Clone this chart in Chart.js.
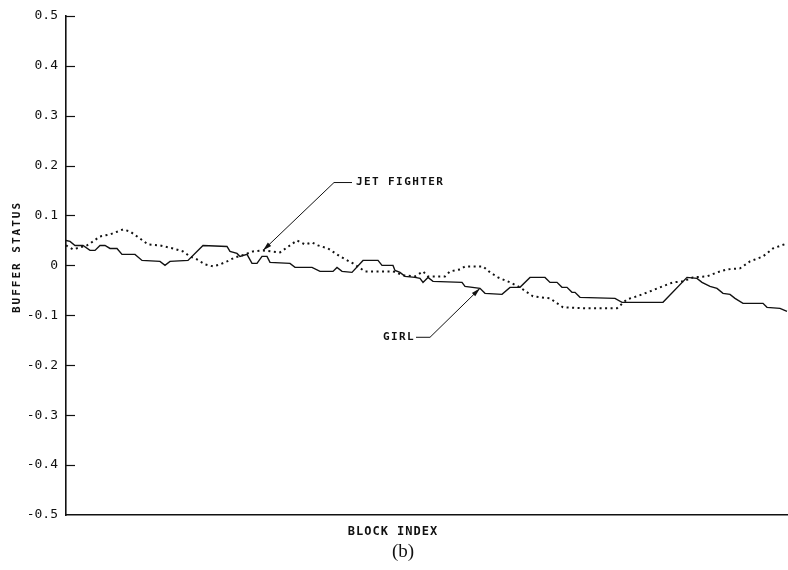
<!DOCTYPE html>
<html>
<head>
<meta charset="utf-8">
<script src="https://cdn.jsdelivr.net/npm/chart.js@4/dist/chart.umd.min.js"></script>
<style>
  html, body { margin: 0; padding: 0; background: #fff; }
  #wrap { width: 788px; height: 570px; }
</style>
</head>
<body>
<div id="wrap"><canvas id="chart" width="788" height="570"></canvas></div>
<script>
// Buffer status per block for the two test sequences.
const girlBlock = [0, 2, 4.5, 8.5, 12, 14.5, 17, 19.5, 22, 25.5, 28, 34.5, 38, 47, 49.5, 52, 61, 68.5, 80.5, 82, 85.5, 87, 90.5, 93, 95.5, 98, 100.5, 102, 112, 114.5, 123, 127, 133.5, 135.5, 138, 143, 148.5, 156, 158, 163.5, 164.5, 167, 169.5, 174.5, 177, 178.5, 181, 183.5, 198, 199.5, 207, 209.5, 218, 222, 227, 232, 239.5, 242, 245.5, 248, 250.5, 253, 254.5, 257, 274.5, 278, 298.5, 310.5, 315.5, 318, 322, 325.5, 328.5, 332, 334.5, 338.5, 348.5, 350.5, 357, 360.5];
const girlStatus = [0.050, 0.048, 0.040, 0.040, 0.030, 0.030, 0.040, 0.040, 0.034, 0.034, 0.022, 0.022, 0.010, 0.008, 0.000, 0.008, 0.010, 0.040, 0.038, 0.028, 0.024, 0.018, 0.022, 0.004, 0.004, 0.018, 0.018, 0.006, 0.004, -0.004, -0.004, -0.012, -0.012, -0.004, -0.012, -0.014, 0.010, 0.010, 0.000, 0.000, -0.010, -0.014, -0.022, -0.024, -0.026, -0.034, -0.024, -0.032, -0.034, -0.042, -0.046, -0.056, -0.058, -0.044, -0.044, -0.024, -0.024, -0.034, -0.034, -0.044, -0.044, -0.054, -0.054, -0.064, -0.066, -0.074, -0.074, -0.024, -0.026, -0.034, -0.042, -0.046, -0.056, -0.058, -0.066, -0.076, -0.076, -0.084, -0.086, -0.092];

const jetBlock = [0, 3.5, 10.5, 13.5, 17, 22, 28.5, 32, 37, 41, 47, 53.5, 58.5, 62, 65.5, 69.5, 73.5, 77, 80.5, 84.5, 89.5, 93.5, 98.5, 107, 115.5, 119.5, 123, 126, 131, 137, 143.5, 149.5, 163.5, 168.5, 174.5, 178.5, 181, 189.5, 192, 197, 199.5, 208.5, 212, 216, 222, 227, 233.5, 242, 248.5, 260.5, 275.5, 280.5, 285.5, 292, 297, 303.5, 308.5, 313.5, 320.5, 325.5, 330.5, 337, 342, 348.5, 353.5, 360.5];
const jetStatus = [0.040, 0.032, 0.040, 0.048, 0.058, 0.062, 0.072, 0.068, 0.054, 0.042, 0.040, 0.034, 0.028, 0.018, 0.012, 0.002, -0.002, 0.002, 0.008, 0.016, 0.022, 0.028, 0.030, 0.026, 0.050, 0.042, 0.046, 0.040, 0.034, 0.018, 0.004, -0.012, -0.012, -0.020, -0.022, -0.012, -0.022, -0.022, -0.012, -0.008, -0.002, -0.002, -0.014, -0.024, -0.034, -0.044, -0.062, -0.066, -0.084, -0.086, -0.086, -0.068, -0.062, -0.052, -0.044, -0.034, -0.032, -0.024, -0.022, -0.014, -0.008, -0.006, 0.008, 0.018, 0.034, 0.044];

const yTickValues = [-0.5, -0.4, -0.3, -0.2, -0.1, 0, 0.1, 0.2, 0.3, 0.4, 0.5];
const yTickLabels = ['-0.5', '-0.4', '-0.3', '-0.2', '-0.1', '0', '0.1', '0.2', '0.3', '0.4', '0.5'];

const seriesNames = ['GIRL', 'JET FIGHTER'];
const xTitle = 'BLOCK INDEX';
const yTitle = 'BUFFER STATUS';
const caption = '(b)';

// Callout arrows: label anchor, horizontal leader, and arrow tip, all in data units.
const callouts = [
  { text: seriesNames[1], labelAt: [145, 0.166], leader: [134, 143], tip: [98.5, 0.030] },
  { text: seriesNames[0], labelAt: [158.5, -0.144], leader: [175, 182], tip: [207, -0.046] }
];

const toPoints = (xs, ys) => xs.map((x, i) => ({ x: x, y: ys[i] }));

const INK = '#111';
const MONO = '"DejaVu Sans Mono", "Liberation Mono", monospace';

// Short tick marks that point into the plot from the left axis.
const inwardTicks = {
  id: 'inwardTicks',
  afterDraw(chart) {
    const { ctx, chartArea } = chart;
    const y = chart.scales.y;
    ctx.save();
    ctx.strokeStyle = INK;
    ctx.lineWidth = 1.2;
    y.ticks.forEach(t => {
      if (t.value <= -0.5) return;
      const py = Math.round(y.getPixelForValue(t.value)) + 0.5;
      ctx.beginPath();
      ctx.moveTo(chartArea.left, py);
      ctx.lineTo(chartArea.left + 9, py);
      ctx.stroke();
    });
    ctx.restore();
  }
};

// Axis titles, figure caption and the labelled arrows.
const annotations = {
  id: 'annotations',
  afterDraw(chart) {
    const { ctx, chartArea } = chart;
    const xs = chart.scales.x, ys = chart.scales.y;
    const X = b => xs.getPixelForValue(b);
    const Y = v => ys.getPixelForValue(v);
    ctx.save();
    ctx.fillStyle = INK;
    ctx.strokeStyle = INK;

    // y-axis title, rotated
    ctx.save();
    ctx.translate(17, 257);
    ctx.rotate(-Math.PI / 2);
    ctx.font = 'bold 11px ' + MONO;
    ctx.letterSpacing = '2px';
    ctx.textAlign = 'center';
    ctx.textBaseline = 'middle';
    ctx.fillText(yTitle, 0, 0);
    ctx.restore();

    // x-axis title
    ctx.font = 'bold 12px ' + MONO;
    ctx.letterSpacing = '1px';
    ctx.textAlign = 'center';
    ctx.textBaseline = 'middle';
    ctx.fillText(xTitle, 393, chartArea.bottom + 17);

    // caption
    ctx.letterSpacing = '0px';
    ctx.font = '19px "Liberation Serif", "DejaVu Serif", serif';
    ctx.fillText(caption, 403, chartArea.bottom + 37);

    // callouts
    ctx.lineWidth = 1;
    callouts.forEach(c => {
      const ly = Y(c.labelAt[1]);
      const ex = X(c.leader[0] < c.tip[0] && c.leader[1] < c.tip[0] ? c.leader[1] : c.leader[0]);
      const tx = X(c.tip[0]), ty = Y(c.tip[1]);
      // horizontal leader
      ctx.beginPath();
      ctx.moveTo(X(c.leader[0]), ly);
      ctx.lineTo(X(c.leader[1]), ly);
      ctx.stroke();
      // diagonal to the curve
      ctx.beginPath();
      ctx.moveTo(ex, ly);
      ctx.lineTo(tx, ty);
      ctx.stroke();
      // arrowhead
      const ang = Math.atan2(ty - ly, tx - ex);
      const len = 9, half = 2.4;
      ctx.beginPath();
      ctx.moveTo(tx, ty);
      ctx.lineTo(tx - len * Math.cos(ang) + half * Math.sin(ang), ty - len * Math.sin(ang) - half * Math.cos(ang));
      ctx.lineTo(tx - len * Math.cos(ang) - half * Math.sin(ang), ty - len * Math.sin(ang) + half * Math.cos(ang));
      ctx.closePath();
      ctx.fill();
      // label
      ctx.font = 'bold 11px ' + MONO;
      ctx.letterSpacing = '1.4px';
      ctx.textAlign = 'left';
      ctx.textBaseline = 'middle';
      ctx.fillText(c.text, X(c.labelAt[0]), ly);
    });
    ctx.restore();
  }
};

new Chart(document.getElementById('chart'), {
  type: 'line',
  data: {
    datasets: [
      {
        label: seriesNames[0],
        data: toPoints(girlBlock, girlStatus),
        borderColor: INK,
        borderWidth: 1.4,
        pointRadius: 0,
        tension: 0,
        fill: false
      },
      {
        label: seriesNames[1],
        data: toPoints(jetBlock, jetStatus),
        borderColor: INK,
        borderWidth: 2,
        borderDash: [2, 3.5],
        pointRadius: 0,
        tension: 0,
        fill: false
      }
    ]
  },
  options: {
    responsive: false,
    animation: false,
    devicePixelRatio: 1,
    layout: { padding: { top: 14, right: 0, bottom: 0, left: 0 } },
    plugins: {
      legend: { display: false },
      tooltip: { enabled: false }
    },
    scales: {
      x: {
        type: 'linear',
        min: 0,
        max: 361,
        grid: { display: false, drawTicks: false },
        border: { display: true, color: INK, width: 1.6 },
        ticks: { display: false },
        afterFit: s => { s.height = 55; }
      },
      y: {
        type: 'linear',
        min: -0.5,
        max: 0.5,
        grid: { display: false, drawTicks: false },
        border: { display: true, color: INK, width: 1.6 },
        afterBuildTicks: s => { s.ticks = yTickValues.map(v => ({ value: v })); },
        ticks: {
          color: INK,
          padding: 8,
          font: { family: MONO, size: 13 },
          callback: v => {
            const i = yTickValues.findIndex(t => Math.abs(t - v) < 1e-9);
            return i >= 0 ? yTickLabels[i] : '';
          }
        },
        afterFit: s => { s.width = 66; }
      }
    }
  },
  plugins: [inwardTicks, annotations]
});
</script>
</body>
</html>
